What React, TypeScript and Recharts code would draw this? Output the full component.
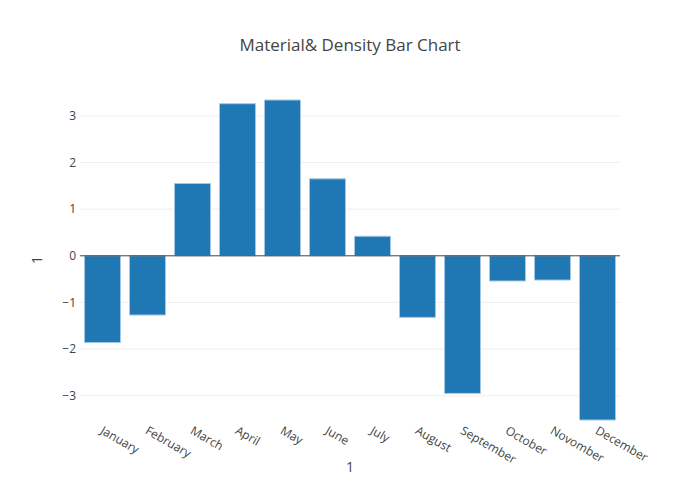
import React from 'react';
import { BarChart, Bar, XAxis, YAxis, ReferenceLine, CartesianGrid } from 'recharts';

const months = ['January', 'February', 'March', 'April', 'May', 'June', 'July', 'August', 'September', 'October', 'Novomber', 'December'];
const values = [-1.86, -1.27, 1.55, 3.26, 3.34, 1.65, 0.42, -1.32, -2.95, -0.54, -0.52, -3.52];
const yTicks = [-3, -2, -1, 0, 1, 2, 3];
const title = 'Material& Density Bar Chart';
const xTitle = '1';
const yTitle = '1';

const data = months.map((m, i) => ({ month: m, value: values[i] }));
const gridValues = yTicks.filter((t) => t !== 0);

const FONT = '"Open Sans", verdana, arial, sans-serif';

const fmt = (v: number) => (v < 0 ? '\u2212' + Math.abs(v) : String(v));

const XTick = (props: any) => {
  const { x, y, payload } = props;
  const tx = x - 3;
  const ty = y + 5;
  return (
    <text
      x={tx}
      y={ty}
      transform={`rotate(30, ${tx}, ${ty})`}
      textAnchor="start"
      fontFamily={FONT}
      fontSize={12}
      fill="#444"
    >
      {payload.value}
    </text>
  );
};

export default function App() {
  return (
    <div style={{ position: 'absolute', left: 0, top: 0, width: 700, height: 500, background: '#fff' }}>
      <BarChart
        width={700}
        height={500}
        data={data}
        margin={{ top: 100, right: 80, bottom: 0, left: 0 }}
        barCategoryGap="10%"
      >
        <CartesianGrid vertical={false} horizontalValues={gridValues} stroke="#eee" strokeWidth={1} />
        <XAxis
          dataKey="month"
          height={80}
          axisLine={false}
          tickLine={false}
          interval={0}
          tick={<XTick />}
        />
        <YAxis
          width={80}
          domain={['dataMin', 'dataMax']}
          ticks={yTicks}
          axisLine={false}
          tickLine={false}
          tickSize={2}
          tickFormatter={fmt}
          tick={{ fill: '#444', fontSize: 12, fontFamily: FONT }}
        />
        <Bar dataKey="value" fill="#1f77b4" stroke="#a5c8e4" strokeWidth={1} isAnimationActive={false} />
        <ReferenceLine y={0} stroke="#444" strokeWidth={1} />
      </BarChart>
      <svg width={700} height={500} style={{ position: 'absolute', left: 0, top: 0, pointerEvents: 'none' }}>
        <text x={350} y={51} textAnchor="middle" fontFamily={FONT} fontSize={17} fill="#444">{title}</text>
        <text x={350} y={472} textAnchor="middle" fontFamily={FONT} fontSize={14} fill="#444">{xTitle}</text>
        <text x={42} y={260} textAnchor="middle" fontFamily={FONT} fontSize={14} fill="#444" transform="rotate(-90, 42, 260)">{yTitle}</text>
      </svg>
    </div>
  );
}
